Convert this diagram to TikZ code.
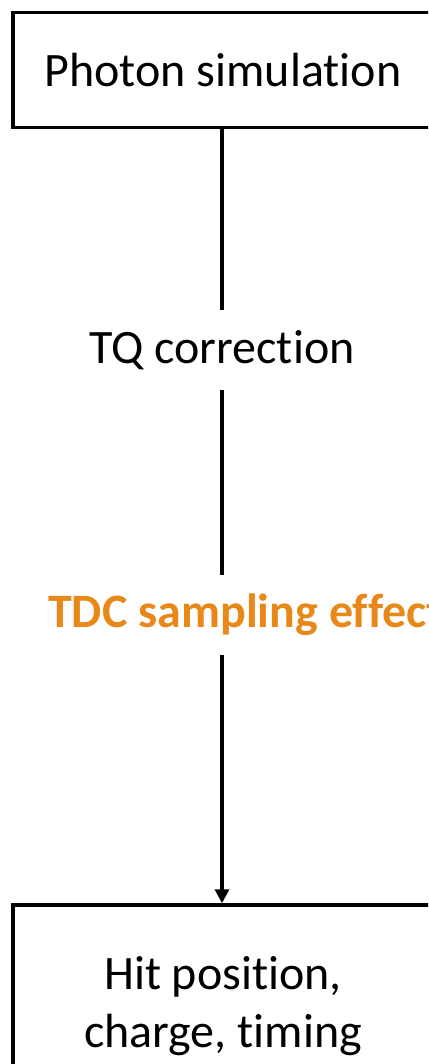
\documentclass[tikz,border=0pt]{standalone}
\usepackage{fontspec}
\setmainfont[Ligatures=NoCommon]{Carlito}
\usetikzlibrary{arrows.meta}
\definecolor{tdcorange}{RGB}{232,136,24}
\tikzset{
  flowbox/.style={draw, line width=3.5pt, inner sep=0pt, align=center},
  flowlabel/.style={inner sep=0pt, minimum height=80pt},
  flowline/.style={line width=3.5pt}
}
\begin{document}
\begin{tikzpicture}[x=1pt,y=-1pt]
        \useasboundingbox (0,0) rectangle (428,1064);
        \clip (0,0) rectangle (428,1064);
        \fontsize{48}{58}\selectfont
        % kassar
        \node [flowbox, minimum width=420pt, minimum height=115pt] (photon) at (223,70) {Photon simulation};
        \node [flowbox, minimum width=420pt, minimum height=202pt] (hit) at (223,1006) {Hit position,\\charge, timing};
        % millistig
        \node [flowlabel] (tq) at (222,350) {TQ correction};
        \node [flowlabel, anchor=west, text=tdcorange, font=\bfseries] (tdc) at (48,615) {TDC sampling effect};
        % línur
        \draw [flowline] (photon.south -| tq) -- (tq);
        \draw [flowline] (tq) -- (tdc.north -| tq);
        \draw [flowline, -{Triangle[width=14pt,length=14pt]}] (tdc.south -| tq) -- (hit.north -| tq);
\end{tikzpicture}
\end{document}
